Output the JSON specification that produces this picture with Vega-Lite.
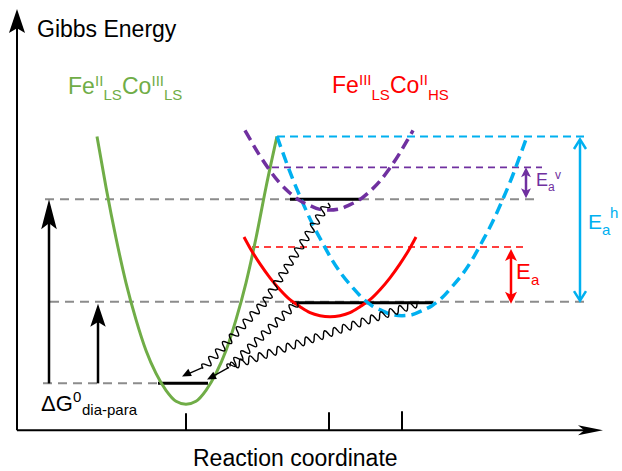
{
  "$schema": "https://vega.github.io/schema/vega-lite/v6.json",
  "width": 622,
  "height": 471,
  "autosize": {"type": "fit", "contains": "padding"},
  "padding": 0,
  "background": "white",
  "config": {"view": {"stroke": null}},
  "encoding": {
    "x": {"field": "x", "type": "quantitative", "scale": {"domain": [0, 622], "nice": false, "zero": false}, "axis": null},
    "y": {"field": "y", "type": "quantitative", "scale": {"domain": [0, 471], "nice": false, "zero": false, "reverse": true}, "axis": null}
  },
  "layer": [
    {
      "data": {"values": [
        {"x": 45, "y": 200, "x2": 540, "y2": 200},
        {"x": 50, "y": 303, "x2": 590, "y2": 303},
        {"x": 43, "y": 385, "x2": 160, "y2": 385}
      ]},
      "mark": {"type": "rule", "color": "#8c8c8c", "strokeWidth": 2, "strokeDash": [9, 6]},
      "encoding": {"x2": {"field": "x2"}, "y2": {"field": "y2"}}
    },
    {
      "data": {"values": [{"x": 252, "y": 248, "x2": 525, "y2": 248}]},
      "mark": {"type": "rule", "color": "#ff0000", "strokeWidth": 1.5, "strokeDash": [7, 5]},
      "encoding": {"x2": {"field": "x2"}, "y2": {"field": "y2"}}
    },
    {
      "data": {"values": [{"x": 272, "y": 168, "x2": 542, "y2": 168}]},
      "mark": {"type": "rule", "color": "#7030a0", "strokeWidth": 1.8, "strokeDash": [7, 5]},
      "encoding": {"x2": {"field": "x2"}, "y2": {"field": "y2"}}
    },
    {
      "data": {"values": [{"x": 277, "y": 137, "x2": 585, "y2": 137}]},
      "mark": {"type": "rule", "color": "#00b0f0", "strokeWidth": 2, "strokeDash": [8, 5]},
      "encoding": {"x2": {"field": "x2"}, "y2": {"field": "y2"}}
    },
    {
      "data": {"values": [
        {"x": 158, "y": 385, "x2": 208, "y2": 385},
        {"x": 292, "y": 304, "x2": 433, "y2": 304},
        {"x": 290, "y": 200, "x2": 360, "y2": 200}
      ]},
      "mark": {"type": "rule", "color": "black", "strokeWidth": 3},
      "encoding": {"x2": {"field": "x2"}, "y2": {"field": "y2"}}
    },
    {
      "data": {"values": [
        {"x": 97, "y": 137}, {"x": 106, "y": 188}, {"x": 116, "y": 239}, {"x": 126, "y": 284},
        {"x": 136, "y": 321}, {"x": 146, "y": 352}, {"x": 156, "y": 375}, {"x": 166, "y": 392},
        {"x": 176, "y": 403}, {"x": 186, "y": 406}, {"x": 196, "y": 403}, {"x": 206, "y": 392},
        {"x": 216, "y": 375}, {"x": 226, "y": 352}, {"x": 236, "y": 321}, {"x": 246, "y": 284},
        {"x": 256, "y": 239}, {"x": 266, "y": 188}, {"x": 277, "y": 137}
      ]},
      "mark": {"type": "line", "color": "#70ad47", "strokeWidth": 3, "interpolate": "monotone"}
    },
    {
      "data": {"values": [
        {"x": 244, "y": 238}, {"x": 250, "y": 249}, {"x": 260, "y": 265}, {"x": 270, "y": 279},
        {"x": 280, "y": 291}, {"x": 290, "y": 301}, {"x": 300, "y": 308}, {"x": 310, "y": 314},
        {"x": 320, "y": 317}, {"x": 330, "y": 318}, {"x": 340, "y": 317}, {"x": 350, "y": 314},
        {"x": 360, "y": 308}, {"x": 370, "y": 301}, {"x": 380, "y": 291}, {"x": 390, "y": 279},
        {"x": 400, "y": 265}, {"x": 410, "y": 249}, {"x": 416, "y": 238}
      ]},
      "mark": {"type": "line", "color": "#ff0000", "strokeWidth": 3, "interpolate": "monotone"}
    },
    {
      "data": {"values": [
        {"x": 277, "y": 137}, {"x": 282, "y": 151}, {"x": 292, "y": 178}, {"x": 302, "y": 202},
        {"x": 312, "y": 224}, {"x": 322, "y": 243}, {"x": 332, "y": 261}, {"x": 342, "y": 276},
        {"x": 352, "y": 288}, {"x": 362, "y": 299}, {"x": 372, "y": 307}, {"x": 382, "y": 312},
        {"x": 392, "y": 316}, {"x": 402, "y": 317}, {"x": 412, "y": 316}, {"x": 422, "y": 312},
        {"x": 432, "y": 307}, {"x": 442, "y": 299}, {"x": 452, "y": 288}, {"x": 462, "y": 276},
        {"x": 472, "y": 261}, {"x": 482, "y": 243}, {"x": 492, "y": 224}, {"x": 502, "y": 202},
        {"x": 512, "y": 178}, {"x": 522, "y": 151}, {"x": 527, "y": 137}
      ]},
      "mark": {"type": "line", "color": "#00b0f0", "strokeWidth": 3.5, "strokeDash": [11, 6], "interpolate": "monotone"}
    },
    {
      "data": {"values": [
        {"x": 245, "y": 131}, {"x": 249, "y": 138}, {"x": 259, "y": 155}, {"x": 269, "y": 170},
        {"x": 279, "y": 183}, {"x": 289, "y": 193}, {"x": 299, "y": 201}, {"x": 309, "y": 206},
        {"x": 319, "y": 210}, {"x": 329, "y": 211}, {"x": 339, "y": 210}, {"x": 349, "y": 206},
        {"x": 359, "y": 201}, {"x": 369, "y": 193}, {"x": 379, "y": 183}, {"x": 389, "y": 170},
        {"x": 399, "y": 155}, {"x": 409, "y": 138}, {"x": 413, "y": 131}
      ]},
      "mark": {"type": "line", "color": "#7030a0", "strokeWidth": 3.5, "strokeDash": [11, 6], "interpolate": "monotone"}
    },
    {
      "data": {"values": [{"x": 296.5, "y": 253.5}]},
      "mark": {"type": "point", "filled": false, "color": "black", "opacity": 1, "strokeWidth": 1.4, "size": 13759, "angle": -57.5,
        "shape": "M-1,0q0.04167,-0.128,0.08333,0q0.04167,0.128,0.08333,0q0.04167,-0.128,0.08333,0q0.04167,0.128,0.08333,0q0.04167,-0.128,0.08333,0q0.04167,0.128,0.08333,0q0.04167,-0.128,0.08333,0q0.04167,0.128,0.08333,0q0.04167,-0.128,0.08333,0q0.04167,0.128,0.08333,0q0.04167,-0.128,0.08333,0q0.04167,0.128,0.08333,0q0.04167,-0.128,0.08333,0q0.04167,0.128,0.08333,0q0.04167,-0.128,0.08333,0q0.04167,0.128,0.08333,0q0.04167,-0.128,0.08333,0q0.04167,0.128,0.08333,0q0.04167,-0.128,0.08333,0q0.04167,0.128,0.08333,0q0.04167,-0.128,0.08333,0q0.04167,0.128,0.08333,0q0.04167,-0.128,0.08333,0q0.04167,0.128,0.08333,0"}
    },
    {
      "data": {"values": [{"x": 234, "y": 336.5}]},
      "mark": {"type": "point", "filled": false, "color": "black", "opacity": 1, "strokeWidth": 1.4, "size": 8336, "angle": -47.2,
        "shape": "M-1,0q0.05556,-0.164,0.11111,0q0.05556,0.164,0.11111,0q0.05556,-0.164,0.11111,0q0.05556,0.164,0.11111,0q0.05556,-0.164,0.11111,0q0.05556,0.164,0.11111,0q0.05556,-0.164,0.11111,0q0.05556,0.164,0.11111,0q0.05556,-0.164,0.11111,0q0.05556,0.164,0.11111,0q0.05556,-0.164,0.11111,0q0.05556,0.164,0.11111,0q0.05556,-0.164,0.11111,0q0.05556,0.164,0.11111,0q0.05556,-0.164,0.11111,0q0.05556,0.164,0.11111,0q0.05556,-0.164,0.11111,0q0.05556,0.164,0.11111,0"}
    },
    {
      "data": {"values": [{"x": 262.5, "y": 337}]},
      "mark": {"type": "point", "filled": false, "color": "black", "opacity": 1, "strokeWidth": 1.4, "size": 9120, "angle": -43.7,
        "shape": "M-1,0q0.05,-0.157,0.1,0q0.05,0.157,0.1,0q0.05,-0.157,0.1,0q0.05,0.157,0.1,0q0.05,-0.157,0.1,0q0.05,0.157,0.1,0q0.05,-0.157,0.1,0q0.05,0.157,0.1,0q0.05,-0.157,0.1,0q0.05,0.157,0.1,0q0.05,-0.157,0.1,0q0.05,0.157,0.1,0q0.05,-0.157,0.1,0q0.05,0.157,0.1,0q0.05,-0.157,0.1,0q0.05,0.157,0.1,0q0.05,-0.157,0.1,0q0.05,0.157,0.1,0q0.05,-0.157,0.1,0q0.05,0.157,0.1,0"}
    },
    {
      "data": {"values": [{"x": 323.5, "y": 336.5}]},
      "mark": {"type": "point", "filled": false, "color": "black", "opacity": 1, "strokeWidth": 1.4, "size": 38927, "angle": -18.6,
        "shape": "M-1,0q0.025,-0.076,0.05,0q0.025,0.076,0.05,0q0.025,-0.076,0.05,0q0.025,0.076,0.05,0q0.025,-0.076,0.05,0q0.025,0.076,0.05,0q0.025,-0.076,0.05,0q0.025,0.076,0.05,0q0.025,-0.076,0.05,0q0.025,0.076,0.05,0q0.025,-0.076,0.05,0q0.025,0.076,0.05,0q0.025,-0.076,0.05,0q0.025,0.076,0.05,0q0.025,-0.076,0.05,0q0.025,0.076,0.05,0q0.025,-0.076,0.05,0q0.025,0.076,0.05,0q0.025,-0.076,0.05,0q0.025,0.076,0.05,0q0.025,-0.076,0.05,0q0.025,0.076,0.05,0q0.025,-0.076,0.05,0q0.025,0.076,0.05,0q0.025,-0.076,0.05,0q0.025,0.076,0.05,0q0.025,-0.076,0.05,0q0.025,0.076,0.05,0q0.025,-0.076,0.05,0q0.025,0.076,0.05,0q0.025,-0.076,0.05,0q0.025,0.076,0.05,0q0.025,-0.076,0.05,0q0.025,0.076,0.05,0q0.025,-0.076,0.05,0q0.025,0.076,0.05,0q0.025,-0.076,0.05,0q0.025,0.076,0.05,0q0.025,-0.076,0.05,0q0.025,0.076,0.05,0"}
    },
    {
      "data": {"values": [
        {"x": 203, "y": 369, "x2": 187, "y2": 376},
        {"x": 229, "y": 369, "x2": 211, "y2": 379}
      ]},
      "mark": {"type": "rule", "color": "black", "strokeWidth": 1.3},
      "encoding": {"x2": {"field": "x2"}, "y2": {"field": "y2"}}
    },
    {
      "data": {"values": [{"x": 182, "y": 378}, {"x": 207, "y": 381}]},
      "mark": {"type": "point", "filled": true, "color": "black", "opacity": 1, "strokeWidth": 0, "size": 81, "angle": 244, "shape": "M0,0L0.9,2L-0.9,2Z"}
    },
    {
      "data": {"values": [
        {"x": 17, "y": 432, "x2": 17, "y2": 25},
        {"x": 17, "y": 432, "x2": 592, "y2": 432},
        {"x": 186, "y": 415, "x2": 186, "y2": 432},
        {"x": 329, "y": 414, "x2": 329, "y2": 432},
        {"x": 402, "y": 413, "x2": 402, "y2": 432}
      ]},
      "mark": {"type": "rule", "color": "black", "strokeWidth": 2},
      "encoding": {"x2": {"field": "x2"}, "y2": {"field": "y2"}}
    },
    {
      "data": {"values": [{"x": 17, "y": 9}]},
      "mark": {"type": "point", "filled": true, "color": "black", "opacity": 1, "strokeWidth": 0, "size": 576, "shape": "M0,0L0.67,2L0,1.6L-0.67,2Z"}
    },
    {
      "data": {"values": [{"x": 603, "y": 432}]},
      "mark": {"type": "point", "filled": true, "color": "black", "opacity": 1, "strokeWidth": 0, "size": 625, "angle": 90, "shape": "M0,0L0.4,2L0,1.5L-0.4,2Z"}
    },
    {
      "data": {"values": [
        {"x": 49, "y": 385, "x2": 49, "y2": 222},
        {"x": 98, "y": 385, "x2": 98, "y2": 320}
      ]},
      "mark": {"type": "rule", "color": "black", "strokeWidth": 2.5},
      "encoding": {"x2": {"field": "x2"}, "y2": {"field": "y2"}}
    },
    {
      "data": {"values": [{"x": 49, "y": 200}]},
      "mark": {"type": "point", "filled": true, "color": "black", "opacity": 1, "strokeWidth": 0, "size": 900, "shape": "M0,0L0.52,2L0,1.6L-0.52,2Z"}
    },
    {
      "data": {"values": [{"x": 98, "y": 305}]},
      "mark": {"type": "point", "filled": true, "color": "black", "opacity": 1, "strokeWidth": 0, "size": 529, "shape": "M0,0L0.67,2L0,1.6L-0.67,2Z"}
    },
    {
      "data": {"values": [{"x": 511, "y": 256, "x2": 511, "y2": 299}]},
      "mark": {"type": "rule", "color": "#ff0000", "strokeWidth": 2.5},
      "encoding": {"x2": {"field": "x2"}, "y2": {"field": "y2"}}
    },
    {
      "data": {"values": [{"x": 511, "y": 250}]},
      "mark": {"type": "point", "filled": true, "color": "#ff0000", "opacity": 1, "strokeWidth": 0, "size": 144, "angle": 0, "shape": "M0,0L1,2L0,1.5L-1,2Z"}
    },
    {
      "data": {"values": [{"x": 511, "y": 305}]},
      "mark": {"type": "point", "filled": true, "color": "#ff0000", "opacity": 1, "strokeWidth": 0, "size": 144, "angle": 180, "shape": "M0,0L1,2L0,1.5L-1,2Z"}
    },
    {
      "data": {"values": [{"x": 526, "y": 174, "x2": 526, "y2": 193}]},
      "mark": {"type": "rule", "color": "#7030a0", "strokeWidth": 2.5},
      "encoding": {"x2": {"field": "x2"}, "y2": {"field": "y2"}}
    },
    {
      "data": {"values": [{"x": 526, "y": 168}]},
      "mark": {"type": "point", "filled": true, "color": "#7030a0", "opacity": 1, "strokeWidth": 0, "size": 100, "angle": 0, "shape": "M0,0L1,2L0,1.5L-1,2Z"}
    },
    {
      "data": {"values": [{"x": 526, "y": 199}]},
      "mark": {"type": "point", "filled": true, "color": "#7030a0", "opacity": 1, "strokeWidth": 0, "size": 100, "angle": 180, "shape": "M0,0L1,2L0,1.5L-1,2Z"}
    },
    {
      "data": {"values": [{"x": 580, "y": 141, "x2": 580, "y2": 301}]},
      "mark": {"type": "rule", "color": "#00b0f0", "strokeWidth": 2.5},
      "encoding": {"x2": {"field": "x2"}, "y2": {"field": "y2"}}
    },
    {
      "data": {"values": [{"x": 580, "y": 140}]},
      "mark": {"type": "point", "filled": false, "color": "#00b0f0", "opacity": 1, "strokeWidth": 2.5, "size": 144, "angle": 0, "shape": "M-1,1.6L0,0L1,1.6"}
    },
    {
      "data": {"values": [{"x": 580, "y": 302}]},
      "mark": {"type": "point", "filled": false, "color": "#00b0f0", "opacity": 1, "strokeWidth": 2.5, "size": 144, "angle": 180, "shape": "M-1,1.6L0,0L1,1.6"}
    },
    {
      "data": {"values": [
        {"x": 37, "y": 37, "text": "Gibbs Energy"},
        {"x": 193, "y": 468, "text": "Reaction coordinate"}
      ]},
      "mark": {"type": "text", "font": "Liberation Sans", "fontSize": 23, "color": "black", "align": "left", "baseline": "alphabetic"},
      "encoding": {"text": {"field": "text"}}
    },
    {
      "data": {"values": [{"x": 41, "y": 413, "text": "ΔG"}]},
      "mark": {"type": "text", "font": "Liberation Sans", "fontSize": 22, "color": "black", "align": "left", "baseline": "alphabetic"},
      "encoding": {"text": {"field": "text"}}
    },
    {
      "data": {"values": [
        {"x": 73, "y": 404, "text": "0"},
        {"x": 82, "y": 417, "text": "dia-para"}
      ]},
      "mark": {"type": "text", "font": "Liberation Sans", "fontSize": 15, "color": "black", "align": "left", "baseline": "alphabetic"},
      "encoding": {"text": {"field": "text"}}
    },
    {
      "data": {"values": [
        {"x": 68, "y": 94, "text": "Fe"},
        {"x": 122, "y": 94, "text": "Co"}
      ]},
      "mark": {"type": "text", "font": "Liberation Sans", "fontSize": 23, "color": "#70ad47", "align": "left", "baseline": "alphabetic"},
      "encoding": {"text": {"field": "text"}}
    },
    {
      "data": {"values": [
        {"x": 95, "y": 86, "text": "II"},
        {"x": 103.5, "y": 100, "text": "LS"},
        {"x": 151.5, "y": 86, "text": "III"},
        {"x": 164, "y": 100, "text": "LS"}
      ]},
      "mark": {"type": "text", "font": "Liberation Sans", "fontSize": 15, "color": "#70ad47", "align": "left", "baseline": "alphabetic"},
      "encoding": {"text": {"field": "text"}}
    },
    {
      "data": {"values": [
        {"x": 332, "y": 93.5, "text": "Fe"},
        {"x": 390, "y": 93.5, "text": "Co"}
      ]},
      "mark": {"type": "text", "font": "Liberation Sans", "fontSize": 23, "color": "#ff0000", "align": "left", "baseline": "alphabetic"},
      "encoding": {"text": {"field": "text"}}
    },
    {
      "data": {"values": [
        {"x": 359, "y": 85, "text": "III"},
        {"x": 371.5, "y": 100, "text": "LS"},
        {"x": 419.5, "y": 85, "text": "II"},
        {"x": 428, "y": 100, "text": "HS"}
      ]},
      "mark": {"type": "text", "font": "Liberation Sans", "fontSize": 15, "color": "#ff0000", "align": "left", "baseline": "alphabetic"},
      "encoding": {"text": {"field": "text"}}
    },
    {
      "data": {"values": [{"x": 516, "y": 280, "text": "E"}]},
      "mark": {"type": "text", "font": "Liberation Sans", "fontSize": 22, "color": "#ff0000", "align": "left", "baseline": "alphabetic"},
      "encoding": {"text": {"field": "text"}}
    },
    {
      "data": {"values": [{"x": 531, "y": 286, "text": "a"}]},
      "mark": {"type": "text", "font": "Liberation Sans", "fontSize": 15, "color": "#ff0000", "align": "left", "baseline": "alphabetic"},
      "encoding": {"text": {"field": "text"}}
    },
    {
      "data": {"values": [{"x": 536, "y": 187, "text": "E"}]},
      "mark": {"type": "text", "font": "Liberation Sans", "fontSize": 18, "color": "#7030a0", "align": "left", "baseline": "alphabetic"},
      "encoding": {"text": {"field": "text"}}
    },
    {
      "data": {"values": [
        {"x": 548, "y": 192, "text": "a"},
        {"x": 555, "y": 180, "text": "v"}
      ]},
      "mark": {"type": "text", "font": "Liberation Sans", "fontSize": 12, "color": "#7030a0", "align": "left", "baseline": "alphabetic"},
      "encoding": {"text": {"field": "text"}}
    },
    {
      "data": {"values": [{"x": 588, "y": 230, "text": "E"}]},
      "mark": {"type": "text", "font": "Liberation Sans", "fontSize": 21, "color": "#00b0f0", "align": "left", "baseline": "alphabetic"},
      "encoding": {"text": {"field": "text"}}
    },
    {
      "data": {"values": [
        {"x": 602, "y": 236, "text": "a"},
        {"x": 610, "y": 219, "text": "h"}
      ]},
      "mark": {"type": "text", "font": "Liberation Sans", "fontSize": 15, "color": "#00b0f0", "align": "left", "baseline": "alphabetic"},
      "encoding": {"text": {"field": "text"}}
    }
  ]
}
